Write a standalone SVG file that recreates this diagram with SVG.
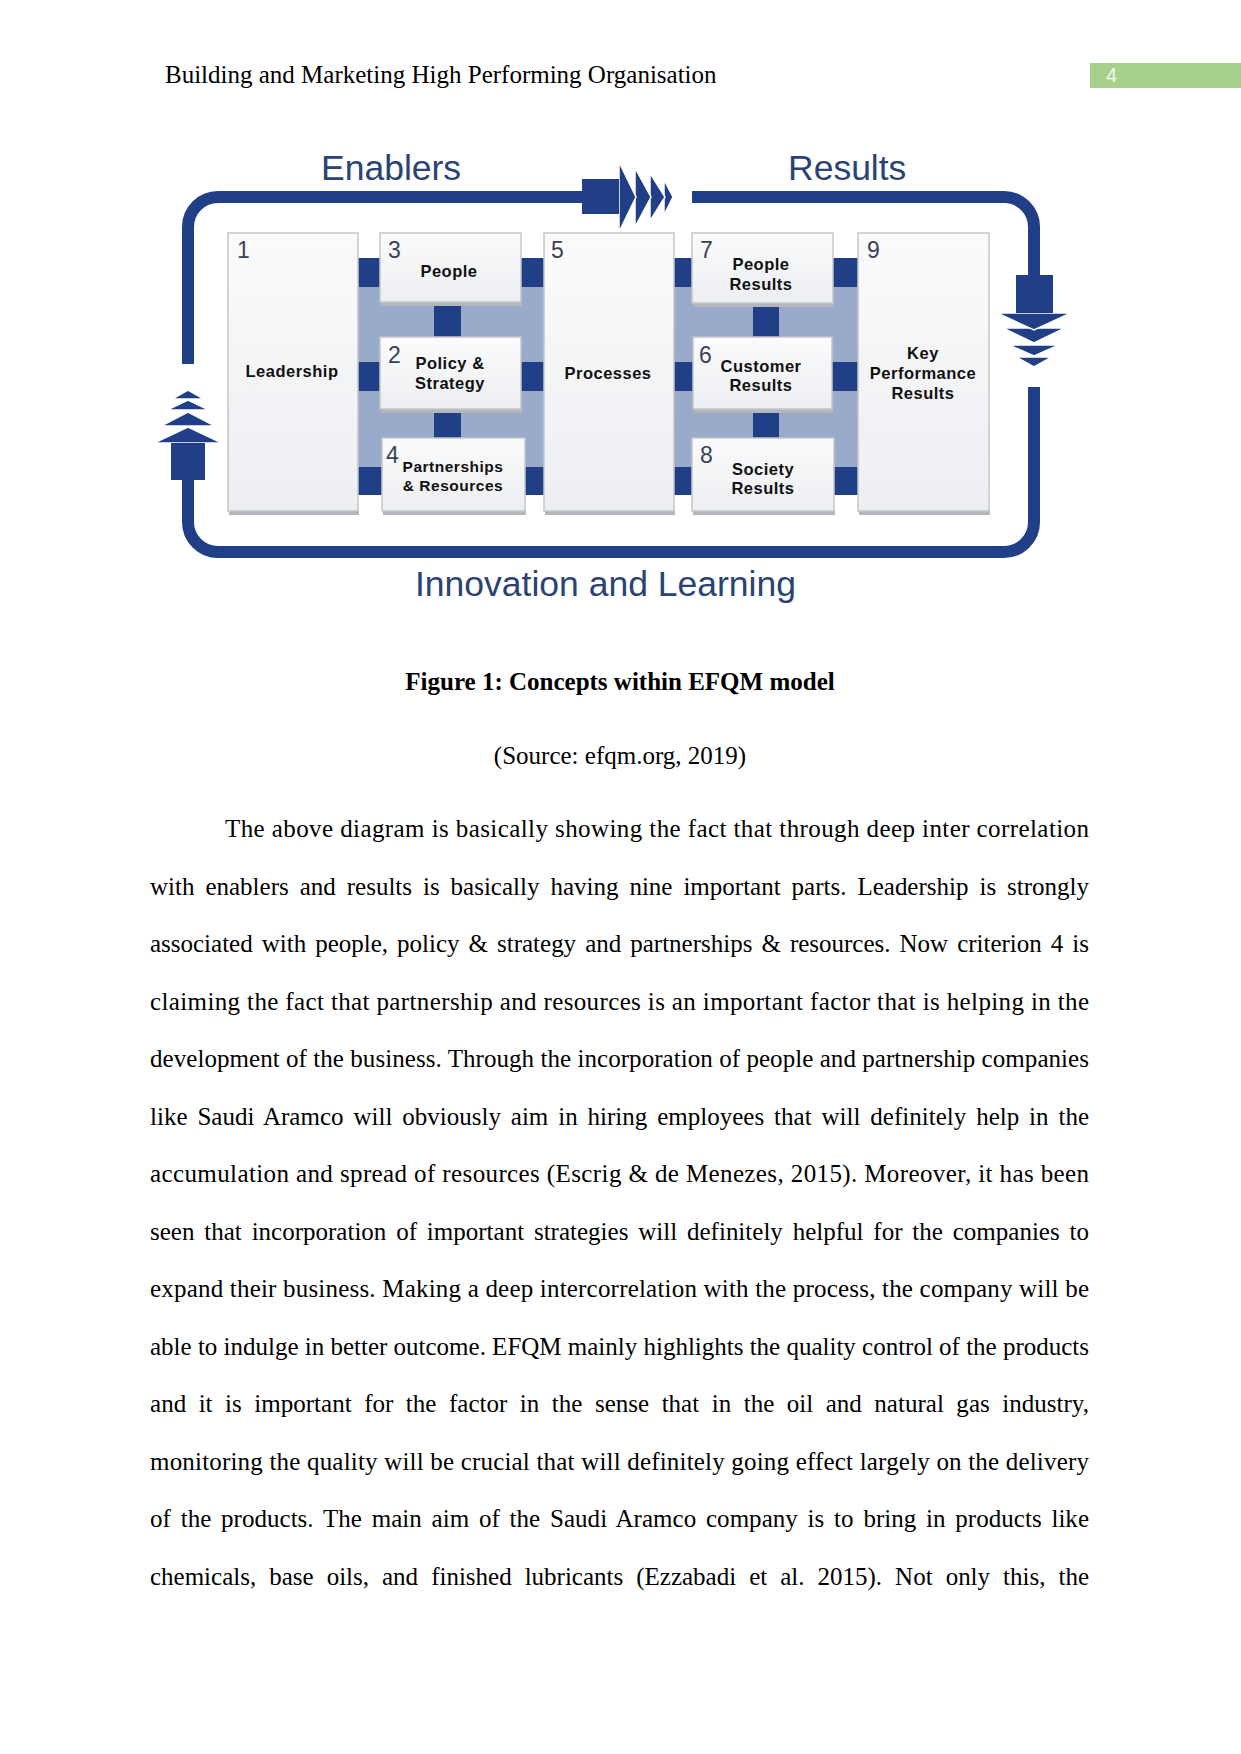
<svg xmlns="http://www.w3.org/2000/svg" width="1241" height="1754" viewBox="0 0 1241 1754">
<style>
.hdr{font-family:"Liberation Serif","Times New Roman",serif;font-size:25px;fill:#000}
.body{font-family:"Liberation Serif","Times New Roman",serif;font-size:25px;fill:#000}
.cap{font-family:"Liberation Serif","Times New Roman",serif;font-size:25px;font-weight:bold;fill:#000;text-anchor:middle}
.big{font-family:"Liberation Sans",Arial,sans-serif;font-size:35.5px;fill:#2b4373}
.num{font-family:"Liberation Sans",Arial,sans-serif;font-size:23px;fill:#3b4256}
.lbl{font-family:"Liberation Sans",Arial,sans-serif;font-size:16.5px;font-weight:bold;fill:#111;text-anchor:middle;letter-spacing:0.5px}
.lbs{font-family:"Liberation Sans",Arial,sans-serif;font-size:15.5px;font-weight:bold;fill:#111;text-anchor:middle;letter-spacing:0.5px}
.box{fill:url(#boxg);stroke:#c3c6ca;stroke-width:1.5}
.shd{fill:#b3b6ba}
.band{fill:#9aaacb}
.dk{fill:#213f86}
.loop{fill:none;stroke:#213f86;stroke-width:12}
.ah{fill:#213f86;stroke:#fff;stroke-width:1.5;stroke-linejoin:miter}
</style>
<defs>
<linearGradient id="boxg" x1="0" y1="0" x2="0" y2="1">
<stop offset="0" stop-color="#fbfbfc"/>
<stop offset="1" stop-color="#eceef1"/>
</linearGradient>
</defs>
<rect width="1241" height="1754" fill="#fff"/>

<!-- header -->
<text class="hdr" x="165" y="83">Building and Marketing High Performing Organisation</text>
<rect x="1090" y="63" width="151" height="25" fill="#a8d08d"/>
<text x="1106" y="82" font-family="Liberation Sans, Arial, sans-serif" font-size="20" fill="#f4f9ef">4</text>

<!-- titles -->
<text class="big" x="321" y="180">Enablers</text>
<text class="big" x="788" y="180">Results</text>
<text class="big" x="415" y="596">Innovation and Learning</text>

<!-- bands -->
<g id="bands">
<rect class="band" x="358" y="258" width="186" height="237"/>
<rect class="band" x="674" y="258" width="184" height="237"/>
<rect class="dk" x="358" y="258" width="22" height="29"/>
<rect class="dk" x="521" y="258" width="23" height="29"/>
<rect class="dk" x="358" y="362" width="22" height="29"/>
<rect class="dk" x="521" y="362" width="23" height="29"/>
<rect class="dk" x="358" y="467" width="24" height="28"/>
<rect class="dk" x="525" y="467" width="19" height="28"/>
<rect class="dk" x="434" y="304" width="27" height="33"/>
<rect class="dk" x="434" y="411" width="27" height="27"/>
<rect class="dk" x="674" y="258" width="18" height="29"/>
<rect class="dk" x="833" y="258" width="25" height="29"/>
<rect class="dk" x="674" y="362" width="19" height="29"/>
<rect class="dk" x="832" y="362" width="26" height="29"/>
<rect class="dk" x="674" y="467" width="18" height="28"/>
<rect class="dk" x="834" y="467" width="24" height="28"/>
<rect class="dk" x="753" y="305" width="26" height="32"/>
<rect class="dk" x="753" y="411" width="26" height="27"/>
</g>

<!-- nodes -->
<g id="n1">
<rect class="shd" x="229" y="510" width="130" height="5"/>
<rect class="box" x="228" y="233" width="130" height="278"/>
<text class="num" x="237" y="258">1</text>
<text class="lbl" x="292" y="377">Leadership</text>
</g>
<g id="n3">
<rect class="shd" x="381" y="301" width="141" height="5"/>
<rect class="box" x="380" y="233" width="141" height="69"/>
<text class="num" x="388" y="258">3</text>
<text class="lbl" x="449" y="277">People</text>
</g>
<g id="n2">
<rect class="shd" x="381" y="408" width="141" height="5"/>
<rect class="box" x="380" y="337" width="141" height="72"/>
<text class="num" x="388" y="363">2</text>
<text class="lbl" x="450" y="369">Policy &amp;</text>
<text class="lbl" x="450" y="389">Strategy</text>
</g>
<g id="n4">
<rect class="shd" x="383" y="510" width="143" height="5"/>
<rect class="box" x="382" y="438" width="143" height="73"/>
<text class="num" x="386" y="463">4</text>
<text class="lbs" x="453" y="472">Partnerships</text>
<text class="lbs" x="453" y="491">&amp; Resources</text>
</g>
<g id="n5">
<rect class="shd" x="545" y="510" width="130" height="5"/>
<rect class="box" x="544" y="233" width="130" height="278"/>
<text class="num" x="551" y="258">5</text>
<text class="lbl" x="608" y="379">Processes</text>
</g>
<g id="n7">
<rect class="shd" x="693" y="302" width="141" height="5"/>
<rect class="box" x="692" y="233" width="141" height="70"/>
<text class="num" x="700" y="258">7</text>
<text class="lbl" x="761" y="270">People</text>
<text class="lbl" x="761" y="290">Results</text>
</g>
<g id="n6">
<rect class="shd" x="694" y="408" width="139" height="5"/>
<rect class="box" x="693" y="337" width="139" height="72"/>
<text class="num" x="699" y="363">6</text>
<text class="lbl" x="761" y="372">Customer</text>
<text class="lbl" x="761" y="391">Results</text>
</g>
<g id="n8">
<rect class="shd" x="693" y="510" width="142" height="5"/>
<rect class="box" x="692" y="438" width="142" height="73"/>
<text class="num" x="700" y="463">8</text>
<text class="lbl" x="763" y="475">Society</text>
<text class="lbl" x="763" y="494">Results</text>
</g>
<g id="n9">
<rect class="shd" x="859" y="510" width="131" height="5"/>
<rect class="box" x="858" y="233" width="131" height="278"/>
<text class="num" x="867" y="258">9</text>
<text class="lbl" x="923" y="359">Key</text>
<text class="lbl" x="923" y="379">Performance</text>
<text class="lbl" x="923" y="399">Results</text>
</g>

<!-- connectors -->
<g id="connectors">
<path class="loop" d="M584 197 H218 A30 30 0 0 0 188 227 V364"/>
<path class="loop" d="M188 478 V522 A30 30 0 0 0 218 552 H1004 A30 30 0 0 0 1034 522 V387"/>
<path class="loop" d="M692 197 H1004 A30 30 0 0 1 1034 227 V277"/>
<!-- enablers -> results arrow -->
<rect class="dk" x="582" y="179" width="38" height="35"/>
<polygon class="ah" points="664,180 673,197 664,215"/>
<polygon class="ah" points="650,173 665,197 650,221"/>
<polygon class="ah" points="635,168 651,197 635,227"/>
<polygon class="ah" points="619,162 636,197 619,232"/>
<rect class="dk" x="582" y="179" width="37" height="35"/>
<!-- down arrow right -->
<rect class="dk" x="1016" y="275" width="37" height="39"/>
<polygon class="ah" points="1016,357 1052,357 1034,367"/>
<polygon class="ah" points="1009,345 1059,345 1034,356"/>
<polygon class="ah" points="1003,328 1065,328 1034,343"/>
<polygon class="ah" points="997,313 1071,313 1034,330"/>
<rect class="dk" x="1016" y="275" width="37" height="38"/>
<!-- up arrow left -->
<rect class="dk" x="171" y="442" width="34" height="38"/>
<polygon class="ah" points="172,399 204,399 188,390"/>
<polygon class="ah" points="167,410 209,410 188,400"/>
<polygon class="ah" points="161,426 215,426 188,412"/>
<polygon class="ah" points="154,443 222,443 188,427"/>
<rect class="dk" x="171" y="443" width="34" height="37"/>
</g>

<!-- caption -->
<text class="cap" x="620" y="690">Figure 1: Concepts within EFQM model</text>
<text class="body" x="620" y="764" text-anchor="middle">(Source: efqm.org, 2019)</text>

<!-- body -->
<g class="body">
<text x="225" y="837" textLength="864" lengthAdjust="spacing">The above diagram is basically showing the fact that through deep inter correlation</text>
<text x="150" y="894.5" textLength="939" lengthAdjust="spacing" word-spacing="4.7">with enablers and results is basically having nine important parts. Leadership is strongly</text>
<text x="150" y="952" textLength="939" lengthAdjust="spacing" word-spacing="2.8">associated with people, policy &amp; strategy and partnerships &amp; resources. Now criterion 4 is</text>
<text x="150" y="1009.5" textLength="939" lengthAdjust="spacing">claiming the fact that partnership and resources is an important factor that is helping in the</text>
<text x="150" y="1067" textLength="939" lengthAdjust="spacing">development of the business. Through the incorporation of people and partnership companies</text>
<text x="150" y="1124.5" textLength="939" lengthAdjust="spacing" word-spacing="3.6">like Saudi Aramco will obviously aim in hiring employees that will definitely help in the</text>
<text x="150" y="1182" textLength="939" lengthAdjust="spacing">accumulation and spread of resources (Escrig &amp; de Menezes, 2015). Moreover, it has been</text>
<text x="150" y="1239.5" textLength="939" lengthAdjust="spacing" word-spacing="3.6">seen that incorporation of important strategies will definitely helpful for the companies to</text>
<text x="150" y="1297" textLength="939" lengthAdjust="spacing">expand their business. Making a deep intercorrelation with the process, the company will be</text>
<text x="150" y="1354.5" textLength="939" lengthAdjust="spacing">able to indulge in better outcome. EFQM mainly highlights the quality control of the products</text>
<text x="150" y="1412" textLength="939" lengthAdjust="spacing" word-spacing="6.2">and it is important for the factor in the sense that in the oil and natural gas industry,</text>
<text x="150" y="1469.5" textLength="939" lengthAdjust="spacing">monitoring the quality will be crucial that will definitely going effect largely on the delivery</text>
<text x="150" y="1527" textLength="939" lengthAdjust="spacing" word-spacing="3.5">of the products. The main aim of the Saudi Aramco company is to bring in products like</text>
<text x="150" y="1584.5" textLength="939" lengthAdjust="spacing" word-spacing="6.8">chemicals, base oils, and finished lubricants (Ezzabadi et al. 2015). Not only this, the</text>
</g>
</svg>
